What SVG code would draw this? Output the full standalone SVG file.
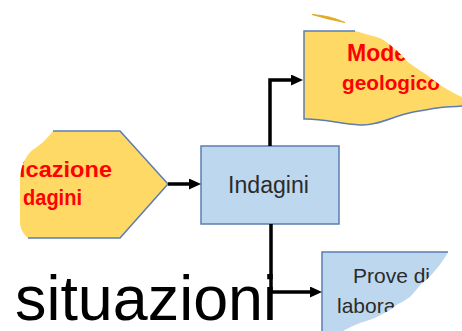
<svg xmlns="http://www.w3.org/2000/svg" width="462" height="331" viewBox="0 0 462 331">
<style>
.yel{fill:#FFD966;stroke:none}
.blu{fill:#BDD7EE;stroke:none}
.edge{fill:none;stroke:#5B7DB1;stroke-width:1.5}
.red{font-family:"Liberation Sans",Arial,sans-serif;font-weight:bold;fill:#FF0000}
.dark{font-family:"Liberation Sans",Arial,sans-serif;fill:#2B2B2B}
.conn{fill:none;stroke:#000;stroke-width:3.5}
</style>
<defs>
<marker id="ah" markerUnits="userSpaceOnUse" markerWidth="12" markerHeight="11" refX="5" refY="5.5" orient="auto">
<path d="M0,0 L12,5.5 L0,11 Z" fill="#000"/>
</marker>
<clipPath id="cLeft"><path d="M53,131 L120,131 L168,184 L120,238 L28,238 C23,234 20,228 20,222 L20,178 C21,168 23,162 26,158 C29,153 31,151 34,149 C40,145 46,140 53,131 Z"/></clipPath>
<clipPath id="cMod"><path d="M304,31 L355,31 C362,33 370,35 380,38 C386,41 390,45 395,49 C399,52 402,56 408,62 C412,65 416,68 427,75 C433,80 437,83 445,88 C450,91 455,94 462,97 L462,106 C450,107 445,107 437,108 C425,110 415,111 405,114 C390,118 375,126 360,125 C340,124 320,118 304,119 Z"/></clipPath>
<clipPath id="cProve"><path d="M322,252 L448,252 C445,258 440,265 433,273 C428,279 425,281 422,283 C416,290 413,294 410,297 C405,300 403,302 400,303 C395,306 392,308 390,310 C385,313 380,315 377,317 C370,320 365,321 360,323 C353,326 348,328 343,331 L322,331 Z"/></clipPath>
</defs>

<g id="sliver">
<path d="M312,14.5 Q330,15.5 345,22.5 Q328,19.5 312,14.5 Z" fill="#E9AE1E" stroke="#D9A21C" stroke-width="0.8"/>
</g>

<g id="node-pianificazione">
<path class="yel" d="M53,131 L120,131 L168,184 L120,238 L28,238 C23,234 20,228 20,222 L20,178 C21,168 23,162 26,158 C29,153 31,151 34,149 C40,145 46,140 53,131 Z"/>
<path class="edge" d="M53,131 L120,131 L168,184 L120,238 L28,238"/>
<g clip-path="url(#cLeft)">
<text class="red" x="19" y="177" font-size="22" textLength="93" lengthAdjust="spacingAndGlyphs">icazione</text>
<text class="red" x="23" y="205" font-size="22" textLength="59" lengthAdjust="spacingAndGlyphs">dagini</text>
</g>
</g>

<g id="node-indagini">
<rect class="blu" x="201" y="146" width="138" height="78"/>
<rect class="edge" x="201" y="146" width="138" height="78"/>
<text class="dark" x="228" y="193" font-size="23" textLength="81" lengthAdjust="spacingAndGlyphs">Indagini</text>
</g>

<g id="node-modello">
<path class="yel" d="M304,31 L355,31 C362,33 370,35 380,38 C386,41 390,45 395,49 C399,52 402,56 408,62 C412,65 416,68 427,75 C433,80 437,83 445,88 C450,91 455,94 462,97 L462,106 C450,107 445,107 437,108 C425,110 415,111 405,114 C390,118 375,126 360,125 C340,124 320,118 304,119 Z"/>
<path class="edge" d="M355,31 L304,31 L304,119 C320,118 340,124 360,125 C375,126 390,118 405,114 C415,111 425,110 437,108 C445,107 450,107 462,106"/>
<g clip-path="url(#cMod)">
<text class="red" x="347" y="61" font-size="23">Mode</text>
<text class="red" x="342" y="90" font-size="21" textLength="98" lengthAdjust="spacingAndGlyphs">geologico</text>
</g>
</g>

<g id="node-prove">
<path class="blu" d="M322,252 L448,252 C445,258 440,265 433,273 C428,279 425,281 422,283 C416,290 413,294 410,297 C405,300 403,302 400,303 C395,306 392,308 390,310 C385,313 380,315 377,317 C370,320 365,321 360,323 C353,326 348,328 343,331 L322,331 Z"/>
<path class="edge" d="M322,331 L322,252 L448,252"/>
<g clip-path="url(#cProve)">
<text class="dark" x="353" y="283" font-size="21">Prove di</text>
<text class="dark" x="337" y="313" font-size="21">labora</text>
</g>
</g>

<g id="connectors">
<path class="conn" d="M168,184 L194,184" marker-end="url(#ah)"/>
<path class="conn" d="M270,146 L270,80 L296,80" marker-end="url(#ah)"/>
<path class="conn" d="M271,224 L271,292 L315,292" marker-end="url(#ah)"/>
</g>

<text x="15" y="320" font-family="'Liberation Sans',Arial,sans-serif" font-size="63" fill="#000" textLength="262" lengthAdjust="spacingAndGlyphs">situazioni</text>
</svg>
